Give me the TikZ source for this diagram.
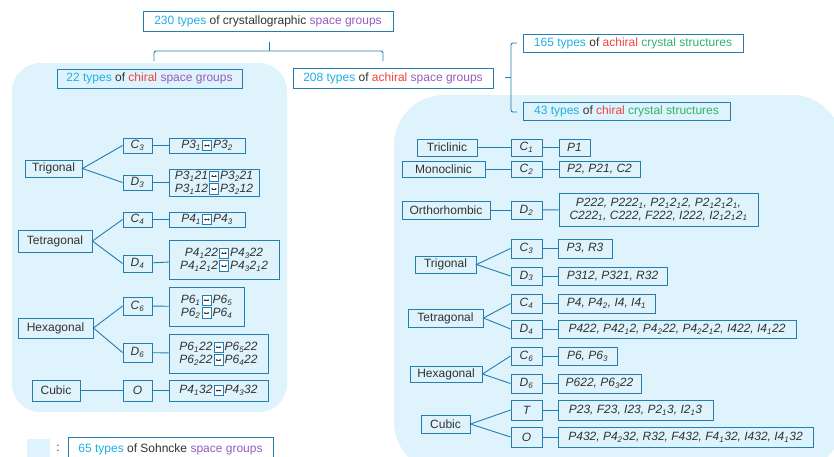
\documentclass[tikz,border=0pt]{standalone}
\usepackage{fontspec}
\setmainfont{Liberation Sans}
\usetikzlibrary{calc,arrows.meta}
\definecolor{bc}{RGB}{38,125,175}
\definecolor{panel}{RGB}{222,243,251}
\definecolor{cyn}{RGB}{30,175,228}
\definecolor{red1}{RGB}{238,66,66}
\definecolor{pur}{RGB}{150,92,190}
\definecolor{grn}{RGB}{48,178,110}
\definecolor{tx}{RGB}{50,50,50}
\newcommand\cy[1]{\textcolor{cyn}{#1}}
\newcommand\rd[1]{\textcolor{red1}{#1}}
\newcommand\pu[1]{\textcolor{pur}{#1}}
\newcommand\gn[1]{\textcolor{grn}{#1}}
\newcommand\sbs[1]{\textsubscript{#1}}
\newcommand\sw{\kern1.2pt\tikz[baseline=0pt,x=1pt,y=1pt]{\draw[bc,line width=0.75pt,fill=white] (0,-1.7) rectangle (9,8.6); \draw[tx,line width=0.55pt,{Latex[length=1.8pt,width=2.4pt]}-{Latex[length=1.8pt,width=2.4pt]}] (1.6,3.4) -- (7.4,3.4);}\kern1.2pt}
\newcommand\bx[6]{\node[box,minimum width={#4-#2},minimum height={#5-#3}] (#1) at ({(#2+#4)/2},{(#3+#5)/2}) {#6};}
\tikzset{
  box/.style={draw=bc,line width=0.9pt,inner sep=1pt,text=tx,align=center,font=\fontsize{12}{12.8}\selectfont},
  conn/.style={draw=bc,line width=0.9pt},
}
\begin{document}
\begin{tikzpicture}[x=1pt,y=-1pt]
\useasboundingbox (0,0) rectangle (834,456);
% panels
\fill[panel,rounded corners=28pt] (12,63) rectangle (287,412);
\fill[panel,rounded corners=50pt] (394,95) rectangle (842,472);
% headings
\bx{top}{143}{11}{393}{31}{\cy{230 types} of crystallographic \pu{space groups}}
\bx{chl}{57}{69}{242}{88}{\cy{22 types} of \rd{chiral} \pu{space groups}}
\bx{ach}{293}{68}{493}{88}{\cy{208 types} of \rd{achiral} \pu{space groups}}
\bx{acs}{523}{34}{743}{52}{\cy{165 types} of \rd{achiral} \gn{crystal structures}}
\bx{chs}{523}{102}{730}{120}{\cy{43 types} of \rd{chiral} \gn{crystal structures}}
% brackets
\coordinate (b0) at (269,42);
\coordinate (b1) at (269,51);
\coordinate (bl) at (154,61);
\coordinate (br) at (383,61);
\draw[conn] (b0) -- (b1);
\draw[conn,rounded corners=2pt] (bl) -- (bl|-b1) -- (br|-b1) -- (br);
\coordinate (r0) at (505,77);
\coordinate (r1) at (511,77);
\coordinate (rt) at (517,43);
\coordinate (rb) at (517,112);
\draw[conn] (r0) -- (r1);
\draw[conn,rounded corners=2pt] (rt) -- (r1|-rt) -- (r1|-rb) -- (rb);
% left panel
\bx{ltrig}{25}{160}{82}{177}{Trigonal}
\bx{lc3}{123}{138}{152}{153}{\itshape C\sbs{3}}
\bx{lc3g}{169}{138}{245}{153}{\itshape P3\sbs{1}\sw P3\sbs{2}}
\bx{ld3}{123}{175}{152}{190}{\itshape D\sbs{3}}
\bx{ld3g}{169}{169}{259}{196}{\itshape P3\sbs{1}21\sw P3\sbs{2}21\\\itshape P3\sbs{1}12\sw P3\sbs{2}12}
\bx{ltet}{18}{230}{92}{252}{Tetragonal}
\bx{lc4}{123}{212}{152}{227}{\itshape C\sbs{4}}
\bx{lc4g}{169}{212}{245}{227}{\itshape P4\sbs{1}\sw P4\sbs{3}}
\bx{ld4}{123}{255}{152}{272}{\itshape D\sbs{4}}
\bx{ld4g}{169}{240}{279}{279}{\itshape P4\sbs{1}22\sw P4\sbs{3}22\\\itshape P4\sbs{1}2\sbs{1}2\sw P4\sbs{3}2\sbs{1}2}
\bx{lhex}{18}{318}{93}{338}{Hexagonal}
\bx{lc6}{123}{297}{152}{315}{\itshape C\sbs{6}}
\bx{lc6g}{169}{287}{244}{326}{\itshape P6\sbs{1}\sw P6\sbs{5}\\\itshape P6\sbs{2}\sw P6\sbs{4}}
\bx{ld6}{123}{343}{152}{362}{\itshape D\sbs{6}}
\bx{ld6g}{169}{334}{268}{373}{\itshape P6\sbs{1}22\sw P6\sbs{5}22\\\itshape P6\sbs{2}22\sw P6\sbs{4}22}
\bx{lcub}{32}{380}{80}{401}{Cubic}
\bx{lo}{123}{380}{152}{401}{\itshape O}
\bx{log}{169}{380}{268}{401}{\itshape P4\sbs{1}32\sw P4\sbs{3}32}
\draw[conn] (lc3.west) -- (ltrig.east) -- (ld3.west);
\draw[conn] (lc4.west) -- (ltet.east) -- (ld4.west);
\draw[conn] (lc6.west) -- (lhex.east) -- (ld6.west);
\draw[conn] (lcub) -- (lo);
\foreach \a/\b in {lc3/lc3g,ld3/ld3g,lc4/lc4g,ld4/ld4g,lc6/lc6g,ld6/ld6g,lo/log}
  \draw[conn] (\a) -- (\b);
% right panel
\bx{rtri}{417}{139}{477}{156}{Triclinic}
\bx{rc1}{511}{139}{542}{156}{\itshape C\sbs{1}}
\bx{rc1g}{559}{139}{590}{156}{\itshape P1}
\bx{rmon}{402}{161}{485}{177}{Monoclinic}
\bx{rc2}{511}{161}{542}{177}{\itshape C\sbs{2}}
\bx{rc2g}{559}{161}{640}{177}{\itshape P2, P21, C2}
\bx{rort}{402}{201}{490}{219}{Orthorhombic}
\bx{rd2}{511}{201}{542}{219}{\itshape D\sbs{2}}
\bx{rd2g}{559}{193}{758}{226}{\itshape P222, P222\sbs{1}, P2\sbs{1}2\sbs{1}2, P2\sbs{1}2\sbs{1}2\sbs{1},\\\itshape C222\sbs{1}, C222, F222, I222, I2\sbs{1}2\sbs{1}2\sbs{1}}
\bx{rtrig}{415}{256}{476}{273}{Trigonal}
\bx{rc3}{511}{239}{542}{258}{\itshape C\sbs{3}}
\bx{rc3g}{558}{239}{612}{258}{\itshape P3, R3}
\bx{rd3}{511}{267}{542}{285}{\itshape D\sbs{3}}
\bx{rd3g}{558}{267}{667}{285}{\itshape P312, P321, R32}
\bx{rtet}{408}{309}{483}{327}{Tetragonal}
\bx{rc4}{511}{294}{542}{313}{\itshape C\sbs{4}}
\bx{rc4g}{558}{294}{655}{313}{\itshape P4, P4\sbs{2}, I4, I4\sbs{1}}
\bx{rd4}{511}{320}{542}{338}{\itshape D\sbs{4}}
\bx{rd4g}{558}{320}{796}{338}{\itshape P422, P42\sbs{1}2, P4\sbs{2}22, P4\sbs{2}2\sbs{1}2, I422, I4\sbs{1}22}
\bx{rhex}{410}{366}{482}{382}{Hexagonal}
\bx{rc6}{511}{347}{542}{365}{\itshape C\sbs{6}}
\bx{rc6g}{558}{347}{617}{365}{\itshape P6, P6\sbs{3}}
\bx{rd6}{511}{374}{542}{393}{\itshape D\sbs{6}}
\bx{rd6g}{558}{374}{641}{393}{\itshape P622, P6\sbs{3}22}
\bx{rcub}{421}{415}{470}{433}{Cubic}
\bx{rt}{511}{400}{542}{420}{\itshape T}
\bx{rtg}{558}{400}{713}{420}{\itshape P23, F23, I23, P2\sbs{1}3, I2\sbs{1}3}
\bx{ro}{511}{427}{542}{447}{\itshape O}
\bx{rog}{558}{427}{813}{447}{\itshape P432, P4\sbs{2}32, R32, F432, F4\sbs{1}32, I432, I4\sbs{1}32}
\draw[conn] (rtri) -- (rc1);
\draw[conn] (rmon) -- (rc2);
\draw[conn] (rort) -- (rd2);
\draw[conn] (rc3.west) -- (rtrig.east) -- (rd3.west);
\draw[conn] (rc4.west) -- (rtet.east) -- (rd4.west);
\draw[conn] (rc6.west) -- (rhex.east) -- (rd6.west);
\draw[conn] (rt.west) -- (rcub.east) -- (ro.west);
\foreach \a/\b in {rc1/rc1g,rc2/rc2g,rd2/rd2g,rc3/rc3g,rd3/rd3g,rc4/rc4g,rd4/rd4g,rc6/rc6g,rd6/rd6g,rt/rtg,ro/rog}
  \draw[conn] (\a) -- (\b);
% legend
\node[fill=panel,minimum width=23pt,minimum height=22pt,inner sep=0pt] (lsq) at (38.5,450) {};
\node[text=tx,font=\fontsize{12}{12}\selectfont,inner sep=0pt] (lcol) at (58,448) {:};
\bx{leg}{68}{437}{273}{462}{\cy{65 types} of Sohncke \pu{space groups}}
\end{tikzpicture}
\end{document}
